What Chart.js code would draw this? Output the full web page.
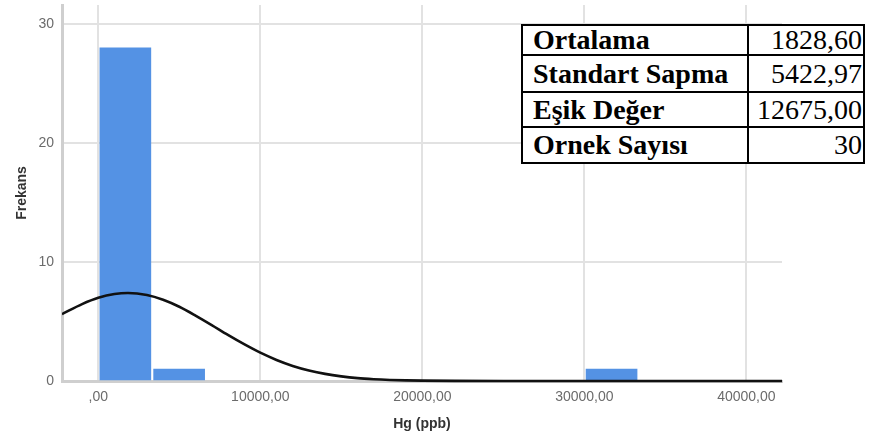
<!DOCTYPE html>
<html>
<head>
<meta charset="utf-8">
<script src="https://cdn.jsdelivr.net/npm/chart.js@4/dist/chart.umd.min.js"></script>
<style>
html,body{margin:0;padding:0;background:#fff;}
#wrap{position:relative;width:874px;height:443px;overflow:hidden;}
canvas{position:absolute;left:0;top:0;}
#stats{position:absolute;left:521px;top:24px;border-collapse:collapse;table-layout:fixed;background:#fff;
  font-family:"Liberation Serif","Times New Roman",serif;color:#000;}
#stats td{border:2px solid #000;padding:0;white-space:nowrap;overflow:hidden;}
#stats td.l{font-weight:bold;font-size:28px;padding-left:10px;width:214px;}
#stats td.v{font-size:28px;text-align:right;padding-right:1px;width:113px;}
</style>
</head>
<body>
<div id="wrap">
<canvas id="c" width="874" height="443"></canvas>
<table id="stats"></table>
</div>
<script>
// ---- data ----
const binCenters = [1670, 4990, 31680];
const binCounts  = [28, 1, 1];
const curveX = [-2240, -1000, 0, 1000, 1830, 3000, 4000, 5000, 6000, 7000, 8000, 9000, 10000, 11000, 12000, 13000, 14000, 15000, 16000, 17000, 18000, 19000, 20000, 22000, 25000, 30000, 35000, 40000, 42200];
const curveY = [5.62, 6.46, 6.99, 7.31, 7.40, 7.23, 6.83, 6.24, 5.50, 4.70, 3.87, 3.09, 2.38, 1.77, 1.27, 0.89, 0.60, 0.39, 0.24, 0.15, 0.09, 0.05, 0.03, 0.01, 0, 0, 0, 0, 0];
const xTicks = [0, 10000, 20000, 30000, 40000];
const yTicks = [0, 10, 20, 30];
const statLabels = ["Ortalama", "Standart Sapma", "Eşik Değer", "Ornek Sayısı"];
const statValues = ["1828,60", "5422,97", "12675,00", "30"];
const xTitle = "Hg (ppb)";
const yTitle = "Frekans";

// ---- stats table ----
const rowHeights = [30, 37, 35, 36];
const tbl = document.getElementById('stats');
statLabels.forEach((lab, i) => {
  const tr = document.createElement('tr');
  tr.style.height = rowHeights[i] + 'px';
  const a = document.createElement('td'); a.className = 'l'; a.textContent = lab;
  const b = document.createElement('td'); b.className = 'v'; b.textContent = statValues[i];
  a.style.lineHeight = (rowHeights[i]-2) + 'px'; b.style.lineHeight = (rowHeights[i]-2) + 'px';
  tr.appendChild(a); tr.appendChild(b); tbl.appendChild(tr);
});

// ---- chart ----
const tickFont = {family: '"Liberation Sans", Arial, sans-serif', size: 14};
const titleFont = {family: '"Liberation Sans", Arial, sans-serif', size: 14, weight: 'bold'};
function noPad(s) { s.paddingTop = 0; s.paddingBottom = 0; s.paddingLeft = 0; s.paddingRight = 0; }
new Chart(document.getElementById('c'), {
  data: {
    datasets: [
      {
        type: 'line',
        data: curveX.map((x, i) => ({x: x, y: curveY[i]})),
        borderColor: '#111',
        borderWidth: 2.6,
        pointRadius: 0,
        cubicInterpolationMode: 'monotone',
        fill: false,
        clip: {left: 0, top: 0, right: 0, bottom: 3},
        order: 0
      },
      {
        type: 'bar',
        data: binCenters.map((x, i) => ({x: x, y: binCounts[i]})),
        backgroundColor: '#5492e4',
        borderWidth: 0,
        barThickness: 51,
        order: 1
      }
    ]
  },
  options: {
    responsive: false,
    animation: false,
    devicePixelRatio: 1,
    layout: {padding: {left: 0, right: 92, top: 5, bottom: 0}},
    plugins: {legend: {display: false}, tooltip: {enabled: false}},
    scales: {
      x: {
        type: 'linear',
        offset: false,
        min: -2240, max: 42200,
        afterFit: s => { s.height = 62; noPad(s); },
        afterBuildTicks: s => { s.ticks = xTicks.map(v => ({value: v})); },
        ticks: {
          font: tickFont, color: '#6b6b6b', padding: 8, maxRotation: 0,
          callback: v => (v === 0 ? ',00' : v + ',00')
        },
        grid: {color: '#e2e2e2', lineWidth: 2, drawTicks: false, offset: false},
        border: {color: '#cfcfcf', width: 3},
        title: {display: true, text: xTitle, font: titleFont, color: '#333', padding: {top: 0, bottom: 10}}
      },
      y: {
        type: 'linear',
        min: 0, max: 31.6,
        afterFit: s => { s.width = 62; noPad(s); },
        afterBuildTicks: s => { s.ticks = yTicks.map(v => ({value: v})); },
        ticks: {font: tickFont, color: '#6b6b6b', padding: 8},
        grid: {color: '#e2e2e2', lineWidth: 2, drawTicks: false},
        border: {color: '#cfcfcf', width: 3},
        title: {display: true, text: yTitle, font: titleFont, color: '#333', padding: {top: 14, bottom: 0}}
      }
    }
  }
});
</script>
</body>
</html>
